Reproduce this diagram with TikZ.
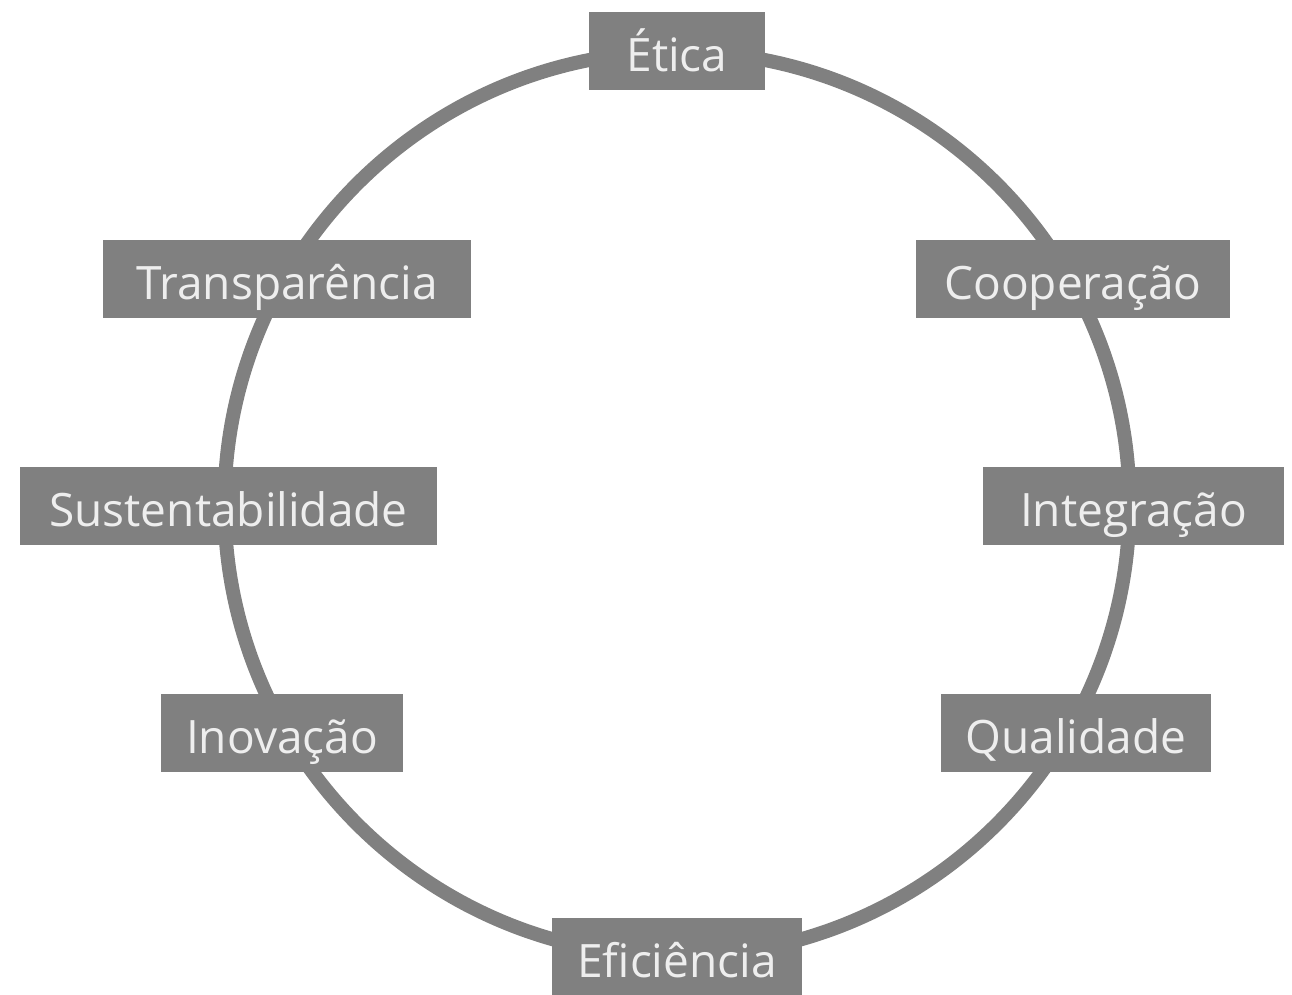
\documentclass[tikz,border=0pt]{standalone}
\usepackage{fontspec}
\setmainfont{Open Sans}
\usetikzlibrary{positioning}
\definecolor{ringgray}{HTML}{808080}
\definecolor{labeltext}{HTML}{EEEEEE}
\tikzset{value/.style={rectangle, fill=ringgray, text=labeltext, minimum height=78pt, inner xsep=20pt, inner ysep=0pt, text height=59pt, text depth=19pt, font=\fontsize{46}{54}\selectfont}}
\tikzset{ring/.style={draw=ringgray, line width=14pt}}

\begin{document}
\begin{tikzpicture}[x=1pt,y=1pt]

\useasboundingbox (-677,-490) rectangle (615,504);

%the circle
\draw[ring] (0,0) circle (452.5);

%values around the circle
\node[value,minimum width=176pt] (etica) at (0,452.5) {Ética};
\node[value,minimum width=314pt] (cooperacao) at (396,225) {Cooperação};
\node[value,minimum width=301pt] (integracao) at (456.5,-2) {Integração};
\node[value,minimum width=270pt] (qualidade) at (399,-229) {Qualidade};
\node[value,minimum width=250pt] (eficiencia) at (0,-453) {Eficiência};
\node[value,minimum width=242pt] (inovacao) at (-395,-229) {Inovação};
\node[value,minimum width=417pt] (sustentabilidade) at (-448.5,-2) {Sustentabilidade};
\node[value,minimum width=368pt] (transparencia) at (-390,225) {Transparência};

\end{tikzpicture}
\end{document}
